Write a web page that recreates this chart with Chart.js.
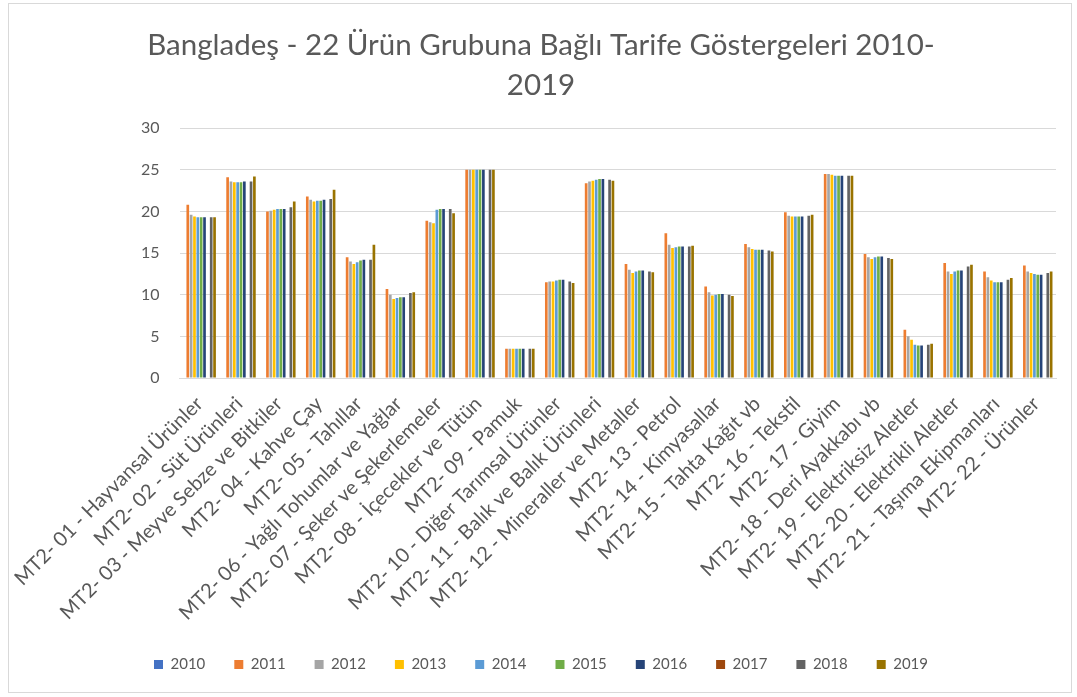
<!DOCTYPE html>
<html>
<head>
<meta charset="utf-8">
<script src="https://cdn.jsdelivr.net/npm/chart.js@4"></script>
<style>
  html, body { margin: 0; padding: 0; background: #ffffff; }
  #wrap { position: absolute; left: 8px; top: 3px; width: 1064px; height: 690px; border: 1px solid #d9d9d9; box-sizing: border-box; }
  #c { position: absolute; left: 0; top: 0; }
</style>
</head>
<body>
<div id="wrap"></div>
<canvas id="c" width="1077" height="697"></canvas>
<script>
const categories = [
  "MT2- 01 - Hayvansal Ürünler",
  "MT2- 02 - Süt Ürünleri",
  "MT2- 03 - Meyve Sebze ve Bitkiler",
  "MT2- 04 - Kahve Çay",
  "MT2- 05 - Tahıllar",
  "MT2- 06 - Yağlı Tohumlar ve Yağlar",
  "MT2- 07 - Şeker ve Şekerlemeler",
  "MT2- 08 - İçecekler ve Tütün",
  "MT2- 09 - Pamuk",
  "MT2- 10 - Diğer Tarımsal Ürünler",
  "MT2- 11 - Balık ve Balık Ürünleri",
  "MT2- 12 - Mineraller ve Metaller",
  "MT2- 13 - Petrol",
  "MT2- 14 - Kimyasallar",
  "MT2- 15 - Tahta Kağıt vb",
  "MT2- 16 - Tekstil",
  "MT2- 17 - Giyim",
  "MT2- 18 - Deri Ayakkabı vb",
  "MT2- 19 - Elektriksiz Aletler",
  "MT2- 20 - Elektrikli Aletler",
  "MT2- 21 - Taşıma Ekipmanları",
  "MT2- 22 - Ürünler"
];
const years = ["2010","2011","2012","2013","2014","2015","2016","2017","2018","2019"];

const v2010 = [null,null,null,null,null,null,null,null,null,null,null,null,null,null,null,null,null,null,null,null,null,null];
const v2011 = [20.8,24.1,20.0,21.8,14.5,10.7,18.9,25.0,3.5,11.5,23.4,13.7,17.4,11.0,16.1,19.9,24.5,14.9,5.8,13.8,12.8,13.5];
const v2012 = [19.6,23.6,20.1,21.4,14.0,10.0,18.7,25.0,3.5,11.6,23.6,13.0,16.0,10.3,15.7,19.5,24.5,14.5,5.0,12.8,12.1,12.8];
const v2013 = [19.4,23.5,20.2,21.2,13.7,9.5,18.6,25.0,3.5,11.6,23.7,12.6,15.6,9.9,15.5,19.4,24.4,14.3,4.6,12.5,11.7,12.6];
const v2014 = [19.3,23.5,20.3,21.3,13.9,9.6,20.2,25.0,3.5,11.7,23.8,12.8,15.7,10.0,15.4,19.4,24.3,14.5,4.0,12.8,11.5,12.5];
const v2015 = [19.3,23.5,20.3,21.3,14.1,9.7,20.3,25.0,3.5,11.8,23.9,12.9,15.8,10.1,15.4,19.4,24.3,14.6,3.9,12.9,11.5,12.4];
const v2016 = [19.3,23.6,20.3,21.4,14.2,9.7,20.3,25.0,3.5,11.8,23.9,12.9,15.8,10.1,15.4,19.4,24.3,14.6,3.9,12.9,11.5,12.4];
const v2017 = [null,null,null,null,null,null,null,null,null,null,null,null,null,null,null,null,null,null,null,null,null,null];
const v2018 = [19.3,23.6,20.5,21.5,14.2,10.2,20.3,25.0,3.5,11.6,23.8,12.8,15.8,10.0,15.3,19.5,24.3,14.4,4.0,13.4,11.8,12.6];
const v2019 = [19.3,24.2,21.2,22.6,16.0,10.3,19.8,25.0,3.5,11.4,23.7,12.7,15.9,9.85,15.2,19.6,24.3,14.3,4.1,13.6,12.0,12.8];

const seriesValues = [v2010,v2011,v2012,v2013,v2014,v2015,v2016,v2017,v2018,v2019];
const colors = ["#4472C4","#ED7D31","#A5A5A5","#FFC000","#5B9BD5","#70AD47","#264478","#9E480E","#636363","#997300"];
const yTicks = [0,5,10,15,20,25,30];

const FONT = "Lato, 'Open Sans', sans-serif";

new Chart(document.getElementById('c'), {
  type: 'bar',
  data: {
    labels: categories,
    datasets: years.map((y, i) => ({
      label: y,
      data: seriesValues[i],
      backgroundColor: colors[i],
      borderWidth: 0,
      categoryPercentage: 0.84,
      barPercentage: 0.8
    }))
  },
  options: {
    responsive: false,
    animation: false,
    layout: { padding: { left: 26, right: 21, top: 25, bottom: 15 } },
    plugins: {
      title: {
        display: true,
        text: ["Bangladeş - 22 Ürün Grubuna Bağlı Tarife Göstergeleri 2010-", "2019"],
        color: "#595959",
        font: { family: FONT, size: 29.5, weight: 'normal', lineHeight: 1.36 },
        padding: { top: 0, bottom: 23 }
      },
      legend: {
        position: 'bottom',
        labels: {
          color: "#595959",
          font: { family: FONT, size: 15 },
          boxWidth: 9,
          boxHeight: 9,
          padding: 29
        }
      },
      tooltip: { enabled: false }
    },
    scales: {
      x: {
        grid: { display: false, drawTicks: false },
        border: { display: true, color: "#d9d9d9" },
        ticks: {
          color: "#595959",
          font: { family: FONT, size: 20 },
          minRotation: 45,
          maxRotation: 45,
          autoSkip: false,
          padding: 14
        },
        afterFit: (s) => { s.height = 250; }
      },
      y: {
        min: 0,
        max: 30,
        grid: { color: "#d9d9d9", drawTicks: false },
        border: { display: false },
        afterBuildTicks: (s) => { s.ticks = yTicks.map(v => ({ value: v })); },
        ticks: {
          color: "#595959",
          font: { family: FONT, size: 16 },
          padding: 20
        },
        afterFit: (s) => { s.width = 153; }
      }
    }
  }
});
</script>
</body>
</html>
